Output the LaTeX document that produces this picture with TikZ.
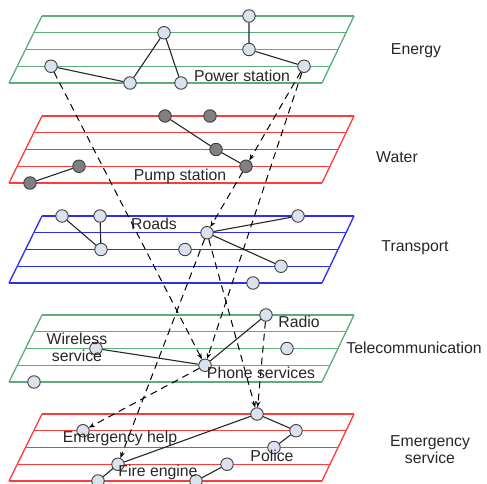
\documentclass[tikz,border=0pt]{standalone}
\usepackage{fontspec}
\setmainfont{Liberation Sans}
\usetikzlibrary{arrows.meta}
\definecolor{gridgreen}{RGB}{92,172,124}
\definecolor{gridred}{RGB}{250,60,60}
\definecolor{gridblue}{RGB}{45,45,240}
\definecolor{nodefill}{RGB}{218,226,238}
\definecolor{pumpfill}{RGB}{128,128,128}
\begin{document}
\begin{tikzpicture}[x=1pt,y=-1pt,
  plane/.style={line width=1.3pt},
  vertex/.style={circle,draw=black!75,line width=0.9pt,fill=nodefill,minimum size=12.5pt,inner sep=0pt},
  darkvertex/.style={vertex,fill=pumpfill},
  link/.style={line width=1.1pt,black!85},
  depend/.style={line width=1pt,dash pattern=on 7pt off 5pt,-{Stealth[length=6pt,width=4.5pt]}},
  lbl/.style={font=\fontsize{15.8}{17}\selectfont,inner sep=0pt,text=black!85},
  layername/.style={lbl,align=center}]
\useasboundingbox (0,0) rectangle (487,484);

% one sloped grid plane: five rungs between two slanted rails
\newcommand\gridplane[2]{%
  \foreach \k in {0,...,4}{
    \draw[plane,#1] ({42-\k*8.25},{#2+\k*16.75}) -- ({354-\k*8},{#2+\k*16.75});
  }
  \draw[plane,#1] (42,#2) -- (9,#2+67);
  \draw[plane,#1] (354,#2) -- (322,#2+67);
}
\gridplane{gridgreen}{16}
\gridplane{gridred}{116}
\gridplane{gridblue}{216}
\gridplane{gridgreen}{315}
\gridplane{gridred}{414}

% layer names
\node[layername] (nEnergy) at (416,51) {Energy};
\node[layername] (nWater) at (397,157) {Water};
\node[layername] (nTransport) at (415,248) {Transport};
\node[layername] (nTelecom) at (414,348) {Telecommunication};
\node[layername] (nEmergency) at (430,450) {Emergency\\service};

% energy
\node[vertex] (E1) at (249,16) {};
\node[vertex] (E2) at (249,49.5) {};
\node[vertex] (E3) at (304,66.25) {};
\node[vertex] (E4) at (164,32.75) {};
\node[vertex] (E5) at (130,83) {};
\node[vertex] (E6) at (181,83) {};
\node[vertex] (E7) at (51,66.25) {};
\node[lbl] (lPower) at (242,76) {Power station};

% water
\node[darkvertex] (W1) at (165,116) {};
\node[darkvertex] (W2) at (210,116) {};
\node[darkvertex] (W3) at (216,149.5) {};
\node[darkvertex] (W4) at (246,166.25) {};
\node[darkvertex] (W5) at (79,166.25) {};
\node[darkvertex] (W6) at (30,183) {};
\node[lbl] (lPump) at (180,176) {Pump station};

% transport
\node[vertex] (T1) at (62,216) {};
\node[vertex] (T2) at (100,216) {};
\node[vertex] (T3) at (101,249.5) {};
\node[vertex] (T4) at (207,232.75) {};
\node[vertex] (T5) at (298,216) {};
\node[vertex] (T6) at (185,249.5) {};
\node[vertex] (T7) at (281,266.25) {};
\node[vertex] (T8) at (253,283) {};
\node[lbl] (lRoads) at (154,224) {Roads};

% telecommunication
\node[vertex] (C1) at (266,315) {};
\node[vertex] (C2) at (96,348.5) {};
\node[vertex] (C3) at (287,348.5) {};
\node[vertex] (C4) at (205,365.25) {};
\node[vertex] (C5) at (34,382) {};
\node[lbl] (lRadio) at (299,322) {Radio};
\node[lbl,align=center] (lWireless) at (77,347) {Wireless\\service};
\node[lbl] (lPhone) at (261,373) {Phone services};

% emergency service
\node[vertex] (S1) at (257,414) {};
\node[vertex] (S2) at (296,430.75) {};
\node[vertex] (S3) at (274,447.5) {};
\node[vertex] (S4) at (83,430.75) {};
\node[vertex] (S5) at (118,464.25) {};
\node[vertex] (S6) at (98,481) {};
\node[vertex] (S7) at (196,481) {};
\node[vertex] (S8) at (227,464.25) {};
\node[lbl] (lHelp) at (120,438) {Emergency help};
\node[lbl] (lPolice) at (272,456) {Police};
\node[lbl] (lFire) at (158,472) {Fire engine};

% links inside each layer
\draw[link] (E1) -- (E2) -- (E3);
\draw[link] (E7) -- (E5) -- (E4) -- (E6);
\draw[link] (W1) -- (W3) -- (W4);
\draw[link] (W6) -- (W5);
\draw[link] (T1) -- (T3) -- (T2);
\draw[link] (T5) -- (T4) -- (T7);
\draw[link] (C2) -- (C4) -- (C1);
\draw[link] (S3) -- (S2) -- (S1) -- (S5) -- (S6);
\draw[link] (S7) -- (S8);

% dependencies between layers
\draw[depend] (E7) -- (C4);
\draw[depend] (E3) -- (W4);
\draw[depend] (E3) -- (C4);
\draw[depend] (W4) -- (T4);
\draw[depend] (T4) -- (S5);
\draw[depend] (T4) -- (S1);
\draw[depend] (C1) -- (S1);
\draw[depend] (C4) -- (S4);
\end{tikzpicture}
\end{document}
